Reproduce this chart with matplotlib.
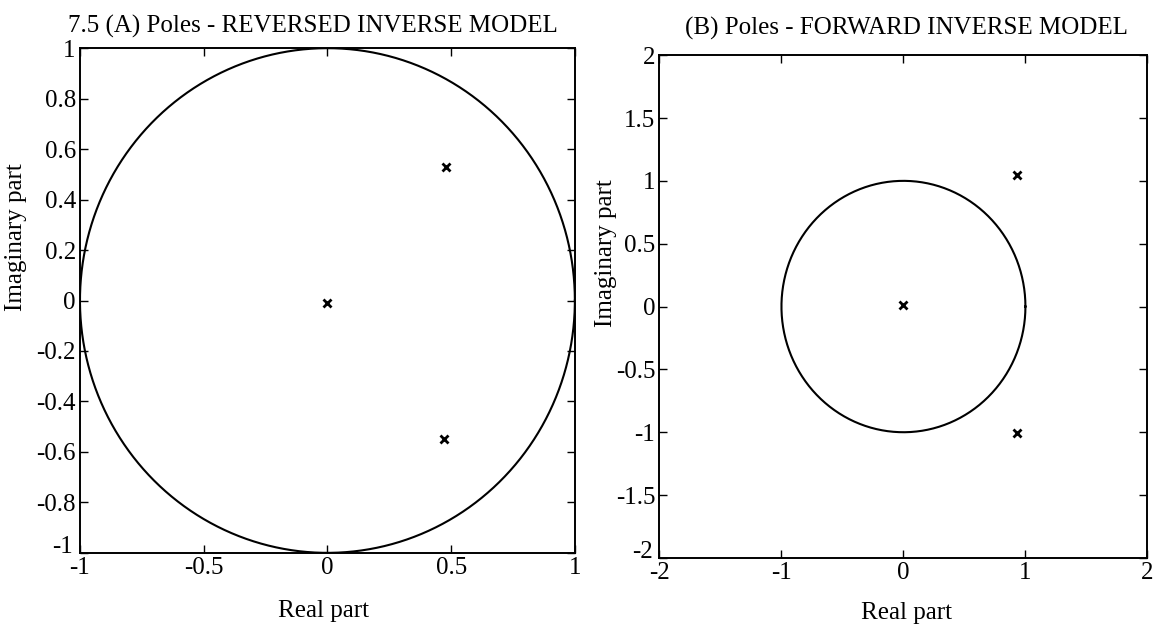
import numpy as np
import matplotlib
matplotlib.use("Agg")
import matplotlib.pyplot as plt
import matplotlib.transforms as mtransforms

plt.rcParams['font.family'] = ['Liberation Serif', 'DejaVu Serif']

# poles
poles_a_re = [0.0, 0.48, 0.47]
poles_a_im = [-0.01, 0.53, -0.55]
poles_b_re = [0.0, 0.93, 0.93]
poles_b_im = [0.01, 1.05, -1.01]

ticks_a_x = [-1, -0.5, 0, 0.5, 1]
labels_a_x = ['-1', '-0.5', '0', '0.5', '1']
ticks_a_y = [-1, -0.8, -0.6, -0.4, -0.2, 0, 0.2, 0.4, 0.6, 0.8, 1]
labels_a_y = ['-1', '-0.8', '-0.6', '-0.4', '-0.2', '0', '0.2', '0.4', '0.6', '0.8', '1']
ticks_b_x = [-2, -1, 0, 1, 2]
labels_b_x = ['-2', '-1', '0', '1', '2']
ticks_b_y = [-2, -1.5, -1, -0.5, 0, 0.5, 1, 1.5, 2]
labels_b_y = ['-2', '-1.5', '-1', '-0.5', '0', '0.5', '1', '1.5', '2']

fig = plt.figure(figsize=(11.59, 6.34), dpi=100)
ax1 = fig.add_axes([0.069, 0.128, 0.427, 0.796])
ax2 = fig.add_axes([0.569, 0.120, 0.421, 0.793])

t = np.linspace(0, 2 * np.pi, 400)

def setup(ax, xt, xl, yt, yl, lim):
    ax.set_xlim(-lim, lim)
    ax.set_ylim(-lim, lim)
    ax.set_xticks(xt)
    ax.set_xticklabels(xl)
    ax.set_yticks(yt)
    ax.set_yticklabels(yl)
    ax.tick_params(direction='in', top=True, right=True, length=6, width=1,
                   labelsize=18, pad=3)
    for s in ax.spines.values():
        s.set_linewidth(1.4)
    # bottom y label sits a little higher, like the original corner
    lab = ax.get_yticklabels()[0]
    lab.set_transform(lab.get_transform() +
                      mtransforms.ScaledTranslation(-2 / 72, 6 / 72, fig.dpi_scale_trans))

for ax, re, im, xt, xl, yt, yl, lim in [
        (ax1, poles_a_re, poles_a_im, ticks_a_x, labels_a_x, ticks_a_y, labels_a_y, 1),
        (ax2, poles_b_re, poles_b_im, ticks_b_x, labels_b_x, ticks_b_y, labels_b_y, 2)]:
    ax.plot(np.cos(t), np.sin(t), color='black', lw=1.5)
    ax.plot(re, im, 'x', color='black', ms=6, mew=2)
    setup(ax, xt, xl, yt, yl, lim)

fig.text(0.270, 0.958, '7.5 (A) Poles - REVERSED INVERSE MODEL', fontsize=18,
         ha='center', va='center')
fig.text(0.782, 0.955, '(B) Poles - FORWARD INVERSE MODEL', fontsize=18,
         ha='center', va='center')
fig.text(0.279, 0.036, 'Real part', fontsize=18, ha='center', va='center')
fig.text(0.782, 0.033, 'Real part', fontsize=18, ha='center', va='center')
fig.text(0.014, 0.626, 'Imaginary part', fontsize=18, rotation=90,
         ha='center', va='center')
fig.text(0.523, 0.600, 'Imaginary part', fontsize=18, rotation=90,
         ha='center', va='center')

fig.savefig('out.png', dpi=100)
